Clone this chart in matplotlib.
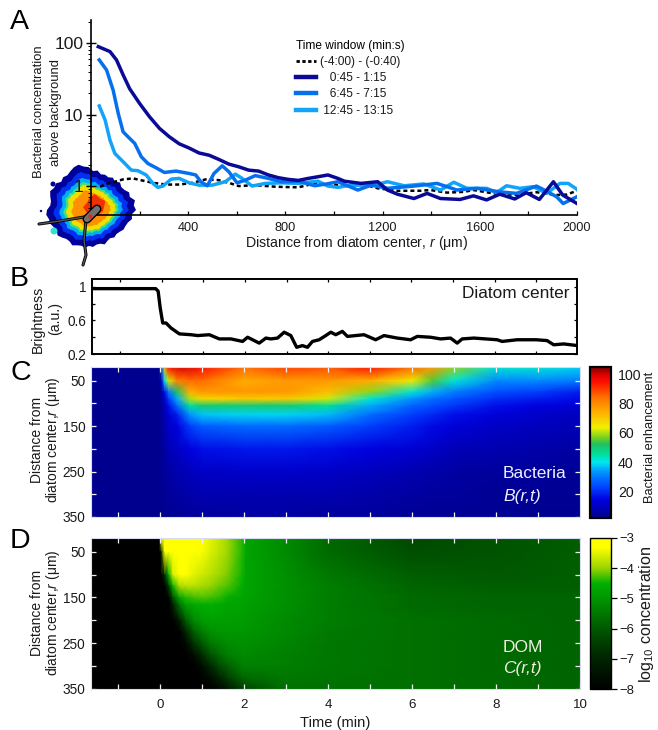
import matplotlib
matplotlib.use('Agg')
import matplotlib.pyplot as plt
from matplotlib.colors import LinearSegmentedColormap
from matplotlib.lines import Line2D
from matplotlib.ticker import FixedLocator, NullFormatter
import numpy as np

plt.rcParams['font.family'] = ['Liberation Sans', 'DejaVu Sans']
plt.rcParams['mathtext.fontset'] = 'custom'
plt.rcParams['mathtext.rm'] = 'Liberation Sans'
plt.rcParams['mathtext.it'] = 'Liberation Sans:italic'

# panel A, radial profiles
r_dark = [30, 78, 105, 132, 159, 200, 241, 282, 322, 363, 404, 445, 486, 526, 567, 608, 649, 690, 730, 771, 812,
          853, 894, 934, 975, 1016, 1043, 1111, 1180, 1220, 1261, 1329, 1383, 1438, 1519, 1574, 1628, 1682, 1744,
          1791, 1845, 1903, 1941, 2000]
c_dark = [89, 76, 58, 36, 23, 14.3, 9.3, 6.4, 4.9, 3.9, 3.4, 2.9, 2.7, 2.36, 2.03, 1.86, 1.67, 1.62, 1.43, 1.31, 1.24,
          1.2, 1.28, 1.35, 1.43, 1.28, 1.17, 1.09, 1.15, 0.88, 0.77, 0.67, 0.79, 0.67, 0.65, 0.73, 0.64, 0.77, 0.66,
          0.81, 0.65, 1.15, 0.75, 0.57]
r_mid = [34, 64, 91, 112, 132, 152, 180, 207, 234, 268, 302, 350, 404, 431, 452, 479, 506, 540, 567, 601, 635, 676,
         730, 785, 853, 921, 969, 1016, 1098, 1153, 1220, 1329, 1424, 1506, 1588, 1682, 1751, 1833, 1860, 1916, 1943,
         2000]
c_mid = [58, 42, 22, 10.4, 5.75, 4.9, 3.95, 2.57, 2.07, 1.8, 1.55, 1.62, 1.5, 1.43, 1.15, 1.01, 1.5, 1.92, 1.59, 1.11,
         1.21, 1.4, 1.28, 1.15, 1.17, 1.01, 1.07, 1.15, 0.88, 1.03, 0.93, 1.0, 1.09, 0.88, 0.93, 0.83, 0.79, 1.0, 0.9,
         0.71, 0.57, 0.71]
r_light = [34, 58, 78, 98, 132, 166, 193, 227, 255, 275, 296, 330, 363, 404, 445, 499, 553, 594, 622, 663, 717, 785,
           853, 934, 975, 1016, 1070, 1166, 1220, 1289, 1370, 1438, 1493, 1547, 1628, 1669, 1710, 1765, 1820, 1875,
           1930, 1964, 2000]
c_light = [13.2, 8.4, 4.4, 2.86, 2.19, 1.67, 1.64, 1.43, 1.09, 0.96, 1.0, 1.25, 1.28, 1.11, 1.03, 1.03, 1.15, 1.47,
           1.28, 1.0, 1.09, 1.11, 1.09, 1.17, 1.0, 0.96, 1.03, 1.03, 1.15, 1.01, 1.07, 0.88, 1.13, 0.93, 0.93, 0.81,
           1.01, 0.93, 0.98, 0.79, 1.09, 1.09, 0.9]
r_before = [37, 64, 98, 132, 173, 214, 255, 309, 363, 418, 472, 526, 567, 608, 676, 757, 853, 921, 989, 1057, 1125,
            1180, 1261, 1356, 1397, 1465, 1534, 1574, 1655, 1751, 1833, 1916, 1957, 2000]
c_before = [0.98, 1.07, 1.15, 1.24, 1.28, 1.19, 1.11, 1.05, 1.05, 1.11, 1.24, 1.21, 1.11, 1.0, 1.03, 0.98, 0.96, 1.09,
            1.05, 1.01, 1.05, 0.93, 0.86, 0.86, 0.88, 0.81, 0.83, 0.88, 0.79, 0.75, 0.82, 0.75, 0.76, 0.86]
legend_labels = ['(-4:00) - (-0:40)', '   0:45 - 1:15', '   6:45 - 7:15', ' 12:45 - 13:15']

# swarm outline seen in panel A, one radius per direction, 6.2 degrees apart (pixels)
blob_radius = [45, 43, 45, 41, 42, 39, 38, 40, 37, 39, 37, 38, 37, 40, 39, 43, 44, 47, 46, 44, 42, 43, 41, 44,
               43, 45, 43, 41, 41, 44, 45, 43, 43, 41, 40, 42, 40, 38, 38, 40, 38, 37, 38, 36, 37, 35, 35, 37,
               35, 34, 36, 35, 36, 38, 38, 39, 42, 41]
blob_levels = [1.0, 0.84, 0.71, 0.62, 0.56, 0.44]
core_radius = [9, 12, 10, 13, 11, 9, 12, 10, 9, 7, 8, 9]

# panel B
t_bright = [-1.65, -0.4, -0.15, -0.09, -0.04, 0.02, 0.1, 0.22, 0.42, 0.7, 0.86, 1.14, 1.38, 1.66, 1.94, 2.06, 2.34,
            2.5, 2.62, 2.78, 2.94, 3.1, 3.24, 3.38, 3.5, 3.62, 3.78, 3.94, 4.06, 4.18, 4.34, 4.46, 4.86, 5.14, 5.34,
            5.66, 5.98, 6.14, 6.46, 6.7, 6.94, 7.1, 7.22, 7.5, 8.06, 8.18, 8.54, 9.0, 9.26, 9.42, 9.66, 10]
brightness = [0.98, 0.98, 0.98, 0.95, 0.75, 0.57, 0.57, 0.51, 0.44, 0.43, 0.42, 0.43, 0.38, 0.38, 0.35, 0.40, 0.33,
              0.39, 0.38, 0.39, 0.46, 0.42, 0.28, 0.30, 0.28, 0.35, 0.37, 0.42, 0.46, 0.43, 0.47, 0.41, 0.43, 0.37,
              0.42, 0.39, 0.37, 0.41, 0.40, 0.38, 0.39, 0.33, 0.38, 0.39, 0.37, 0.35, 0.37, 0.37, 0.36, 0.31, 0.32,
              0.30]

# panel C, bacterial enhancement
bact_r = [20, 50, 75, 90, 105, 125, 150, 200, 250, 300, 350]
bact_t = [-1.65, -0.03, 0.03, 0.1, 0.2, 0.4, 0.7, 1, 2, 3, 4, 5, 6, 6.5, 7, 8, 9, 10]
bact_grid = [
    [2, 2, 2, 2, 2, 2, 2, 2, 2, 2, 2],
    [2, 2, 2, 2, 2, 2, 2, 2, 2, 2, 2],
    [30, 10, 6, 5, 4, 4, 4, 3, 3, 2, 2],
    [75, 40, 15, 10, 8, 7, 6, 5, 4, 3, 2],
    [95, 62, 30, 22, 16, 12, 10, 8, 5, 4, 3],
    [100, 82, 52, 35, 28, 18, 14, 10, 7, 5, 3],
    [100, 85, 74, 60, 45, 33, 22, 14, 9, 6, 4],
    [95, 85, 78, 68, 50, 37, 26, 16, 10, 7, 4],
    [85, 75, 78, 70, 50, 38, 28, 17, 11, 7, 5],
    [90, 78, 78, 70, 50, 38, 28, 17, 11, 7, 5],
    [88, 78, 72, 62, 46, 36, 26, 16, 10, 7, 4],
    [95, 75, 58, 42, 35, 28, 22, 14, 9, 6, 4],
    [85, 65, 42, 33, 27, 22, 18, 12, 7, 5, 3],
    [78, 55, 35, 28, 24, 19, 15, 10, 6, 4, 3],
    [58, 42, 30, 25, 21, 16, 13, 8, 5, 4, 3],
    [42, 32, 24, 20, 16, 13, 10, 7, 4, 3, 3],
    [42, 32, 22, 18, 14, 11, 9, 6, 4, 3, 2],
    [38, 30, 18, 15, 12, 9, 8, 5, 3, 3, 2],
]

# panel D, log10 DOM concentration
dom_r = [20, 50, 100, 125, 150, 165, 200, 225, 250, 275, 300, 325, 350]
dom_t = [-1.65, -0.02, 0.02, 0.1, 0.2, 0.3, 0.45, 0.6, 0.8, 1, 1.2, 1.4, 1.6, 1.95, 2.05, 3, 4, 6, 8, 10]
dom_grid = [
    [-8, -8, -8, -8, -8, -8, -8, -8, -8, -8, -8, -8, -8],
    [-8, -8, -8, -8, -8, -8, -8, -8, -8, -8, -8, -8, -8],
    [-3.2, -7, -8, -8, -8, -8, -8, -8, -8, -8, -8, -8, -8],
    [-3, -3.3, -6.8, -8, -8, -8, -8, -8, -8, -8, -8, -8, -8],
    [-3, -3, -4.6, -6.5, -7.9, -8, -8, -8, -8, -8, -8, -8, -8],
    [-3, -3, -3.6, -4.5, -6.2, -7, -8, -8, -8, -8, -8, -8, -8],
    [-3, -3, -3.2, -3.9, -4.8, -5.6, -7.2, -8, -8, -8, -8, -8, -8],
    [-3, -3, -3.3, -3.8, -4.4, -4.8, -6, -7, -7.8, -8, -8, -8, -8],
    [-3.1, -3.15, -3.5, -3.8, -4.3, -4.6, -5.2, -5.9, -6.7, -7.6, -8, -8, -8],
    [-3.3, -3.35, -3.65, -3.9, -4.25, -4.55, -4.9, -5.4, -6, -6.8, -7.6, -8, -8],
    [-3.5, -3.55, -3.8, -4, -4.3, -4.5, -4.8, -5.1, -5.5, -6.1, -6.9, -7.6, -8],
    [-3.7, -3.75, -3.95, -4.15, -4.35, -4.6, -4.8, -5, -5.3, -5.7, -6.3, -7, -7.8],
    [-3.95, -3.95, -4.1, -4.25, -4.5, -4.7, -4.85, -5, -5.15, -5.4, -5.9, -6.5, -7.4],
    [-4.4, -4.4, -4.45, -4.55, -4.7, -4.75, -4.85, -5, -5.1, -5.2, -5.4, -5.8, -6.5],
    [-4.7, -4.7, -4.7, -4.7, -4.75, -4.8, -4.9, -5, -5.1, -5.2, -5.35, -5.7, -6.3],
    [-5.2, -5.2, -5.1, -5.1, -5.1, -5.1, -5.2, -5.2, -5.3, -5.35, -5.4, -5.5, -5.6],
    [-5.7, -5.7, -5.5, -5.4, -5.4, -5.4, -5.4, -5.45, -5.5, -5.5, -5.5, -5.55, -5.6],
    [-6.3, -6.2, -5.9, -5.8, -5.7, -5.7, -5.6, -5.6, -5.6, -5.6, -5.6, -5.6, -5.6],
    [-6.1, -6.1, -6, -5.9, -5.8, -5.8, -5.7, -5.7, -5.7, -5.7, -5.7, -5.7, -5.7],
    [-5.9, -5.9, -5.9, -5.9, -5.8, -5.8, -5.8, -5.8, -5.8, -5.8, -5.8, -5.8, -5.8],
]

W, H = 658, 730
DARK = '#0a0a96'
MID = '#0570ee'
LIGHT = '#12a4f8'
TXT = '#1a1a1a'

jet_like = LinearSegmentedColormap.from_list('jet_like', [
    (0.0, '#00008c'), (0.12, '#0000e0'), (0.2, '#0040ff'), (0.3, '#0090ff'), (0.37, '#00e8f0'), (0.42, '#00e0a0'),
    (0.49, '#20c060'), (0.53, '#70d020'), (0.6, '#f0f000'), (0.7, '#ffb000'), (0.8, '#ff7000'), (0.9, '#ff1000'),
    (0.95, '#e00000'), (1.0, '#800000')])
dom_cmap = LinearSegmentedColormap.from_list('dom_cmap', [
    (0.0, '#000000'), (0.2, '#002300'), (0.4, '#005800'), (0.6, '#009600'), (0.7, '#00af00'), (0.8, '#98d400'),
    (0.94, '#ffff00'), (1.0, '#ffff00')])


def axes_px(fig, left, top, right, bottom, **kwargs):
    return fig.add_axes([left / W, 1 - bottom / H, (right - left) / W, (bottom - top) / H], **kwargs)


def text_px(fig, x, y, s, **kwargs):
    kwargs.setdefault('color', TXT)
    return fig.text(x / W, 1 - y / H, s, **kwargs)


def draw_blob(fig):
    # the swarm picture sits under panel A, drawn in figure pixels
    ax = axes_px(fig, 0, 0, W, H, zorder=0)
    ax.set_xlim(0, W)
    ax.set_ylim(H, 0)
    ax.axis('off')
    rad = np.array(blob_radius + blob_radius[:1], dtype=float)
    ang = np.linspace(0, 2 * np.pi, len(rad))
    cols = ['#00009a', '#0030f0', '#00b0f0', '#40e080', '#f0e000', '#ff9000']
    for lev, col in zip(blob_levels, cols):
        ax.fill(91 + lev * rad * np.cos(ang), 210 - lev * rad * np.sin(ang), color=col, lw=0)
    core = np.array(core_radius + core_radius[:1], dtype=float)
    ang = np.linspace(0, 2 * np.pi, len(core))
    ax.fill(95 + core * np.cos(ang), 207 - core * np.sin(ang), color='#f03000', lw=0)
    ax.add_patch(plt.Circle((54, 231), 3.5, color='#30e0d0', lw=0))
    ax.add_patch(plt.Circle((53, 184), 2.5, color='#00009a', lw=0))
    ax.add_patch(plt.Circle((41, 211), 1.2, color='#00009a', lw=0))
    return ax


def draw_diatom(fig):
    ax = axes_px(fig, 0, 0, W, H, zorder=5)
    ax.set_xlim(0, W)
    ax.set_ylim(H, 0)
    ax.axis('off')
    ax.patch.set_alpha(0)
    for xs, ys, lw in [([39, 60, 84, 90], [224, 221, 217, 215], 2.2), ([86, 84, 86, 83], [220, 240, 255, 265], 2.2)]:
        ax.plot(xs, ys, color='black', lw=lw, solid_capstyle='round')
        ax.plot(xs, ys, color='#555555', lw=lw - 1.2, solid_capstyle='round')
    ax.plot([87, 97], [219, 209], color='black', lw=6.5, solid_capstyle='round')
    ax.plot([87, 97], [219, 209], color='#707070', lw=4.5, solid_capstyle='round')
    ax.plot([90], [216], 'o', color='#f02020', ms=2)


def line(ax, x, y, col):
    ax.plot(x, y, color=col, lw=2.5, solid_joinstyle='round')


fig = plt.figure(figsize=(W / 100, H / 100), dpi=100)

draw_blob(fig)

# A
ax = axes_px(fig, 91, 20, 577, 215, zorder=2)
ax.patch.set_alpha(0)
ax.plot(r_before, c_before, color='black', lw=1.8, ls=(0, (1.6, 1.2)))
line(ax, r_light, c_light, LIGHT)
line(ax, r_mid, c_mid, MID)
line(ax, r_dark, c_dark, DARK)
ax.set_xlim(0, 2000)
ax.set_yscale('log')
ax.set_ylim(0.394, 210)
ax.spines['top'].set_visible(False)
ax.spines['right'].set_visible(False)
ax.spines['left'].set_linewidth(1.2)
ax.spines['bottom'].set_linewidth(1.2)
ax.set_xticks([400, 800, 1200, 1600, 2000])
ax.set_xticks([200, 600, 1000, 1400, 1800], minor=True)
ax.tick_params(axis='x', which='both', direction='in', length=3, width=0.9, labelsize=9.2, pad=5, labelcolor=TXT)
ax.set_yticks([1, 10, 100])
ax.set_yticklabels(['1', '10', '100'])
ax.yaxis.set_minor_locator(FixedLocator([0.5, 0.6, 0.7, 0.8, 0.9, 2, 3, 4, 5, 6, 7, 8, 9, 20, 30, 40, 50, 60, 70, 80,
                                         90, 200]))
ax.yaxis.set_minor_formatter(NullFormatter())
ax.tick_params(axis='y', which='major', direction='inout', length=7, width=1, labelsize=12.6, pad=2, labelcolor=TXT)
ax.tick_params(axis='y', which='minor', direction='out', length=2.5, width=0.7)
handles = [Line2D([], [], color='black', lw=2, ls=(0, (1.2, 0.9))), Line2D([], [], color=DARK, lw=3.2),
           Line2D([], [], color=MID, lw=3.2), Line2D([], [], color=LIGHT, lw=3.2)]
leg = ax.legend(handles, legend_labels, loc='upper left', bbox_to_anchor=(205 / 486, 0.9), frameon=False,
                fontsize=8.6, title='Time window (min:s)', title_fontsize=8.6, handlelength=1.7, handletextpad=0.3,
                labelspacing=0.36, borderpad=0, borderaxespad=0, alignment='left', labelcolor=TXT)
text_px(fig, 245, 247, 'Distance from diatom center, $\\mathit{r}$ ($\\mathrm{\\mu}$m)', fontsize=10.2, va='baseline')
text_px(fig, 39, 112, 'Bacterial concentration', fontsize=9.4, rotation=90, ha='center', va='center')
text_px(fig, 56, 112, 'above background', fontsize=9.4, rotation=90, ha='center', va='center')

draw_diatom(fig)

# B
ax = axes_px(fig, 92, 279, 577, 354, zorder=2)
ax.plot(t_bright, brightness, color='black', lw=2.4)
ax.set_xlim(-1.68, 9.98)
ax.set_ylim(0.2, 1.095)
ax.set_xticks(range(-1, 10))
ax.set_xticklabels([])
ax.set_yticks([0.2, 0.4, 0.6, 0.8, 1.0])
ax.set_yticklabels(['0.2', '', '0.6', '', '1'])
ax.tick_params(axis='both', direction='in', top=True, right=True, length=2.5, width=0.9, labelsize=9.8, pad=4,
               labelcolor=TXT)
for s in ax.spines.values():
    s.set_linewidth(1.4)
text_px(fig, 570, 294, 'Diatom center', fontsize=12.4, ha='right', va='center')
text_px(fig, 38, 319, 'Brightness', fontsize=10.2, rotation=90, ha='center', va='center')
text_px(fig, 55, 319, '(a.u.)', fontsize=10.2, rotation=90, ha='center', va='center')


def heat_axes(top, bottom):
    ax = axes_px(fig, 91, top, 580, bottom, zorder=2)
    ax.set_xlim(-1.65, 10)
    ax.set_ylim(350, 20)
    ax.set_xticks(range(-1, 10))
    ax.set_yticks([50, 150, 250, 350])
    ax.set_yticks([100, 200, 300], minor=True)
    ax.tick_params(axis='both', which='both', direction='in', top=True, right=True, length=3.5, width=0.9,
                   color='#f0f0f0', labelsize=9.8, pad=4, labelcolor=TXT)
    ax.tick_params(axis='x', labelbottom=False)
    for tick in ax.yaxis.get_major_ticks() + ax.yaxis.get_minor_ticks():
        tick.tick1line.set_color('black')
    for s in ax.spines.values():
        s.set_color('#d8dcf0')
        s.set_linewidth(0.8)
    return ax


# C
ax = heat_axes(367, 517)
mesh = ax.pcolormesh(bact_t, bact_r, np.array(bact_grid).T, shading='gouraud', cmap=jet_like, vmin=1.4, vmax=105.5,
                     rasterized=True)
text_px(fig, 503, 474, 'Bacteria', fontsize=12.5, color='#eef0ff', va='center')
text_px(fig, 503, 496, 'B(r,t)', fontsize=12.5, color='#eef0ff', style='italic', va='center')
text_px(fig, 37, 440, 'Distance from', fontsize=10, rotation=90, ha='center', va='center')
text_px(fig, 53, 440, 'diatom center,$\\mathit{r}$ ($\\mathrm{\\mu}$m)', fontsize=10, rotation=90, ha='center',
        va='center')

cax = axes_px(fig, 590, 367, 611, 518, zorder=2)
cb = fig.colorbar(mesh, cax=cax)
cb.set_ticks([20, 40, 60, 80, 100])
cb.ax.tick_params(length=0, labelsize=10.2, pad=5, labelcolor=TXT)
cb.outline.set_linewidth(1.6)
text_px(fig, 650, 437, 'Bacterial enhancement', fontsize=9.3, rotation=90, ha='center', va='center')

# D
ax = heat_axes(538, 689)
mesh = ax.pcolormesh(dom_t, dom_r, np.array(dom_grid).T, shading='gouraud', cmap=dom_cmap, vmin=-8, vmax=-3,
                     rasterized=True)
ax.set_xticks([0, 2, 4, 6, 8, 10])
ax.set_xticks(range(-1, 10, 2), minor=True)
ax.tick_params(axis='x', labelbottom=True, pad=7, labelsize=9.6)
ax.set_xlabel('Time (min)', fontsize=10.6, color=TXT, labelpad=4)
text_px(fig, 503, 647, 'DOM', fontsize=12.5, color='#eef0e0', va='center')
text_px(fig, 503, 668, 'C(r,t)', fontsize=12.5, color='#eef0e0', style='italic', va='center')
text_px(fig, 37, 613, 'Distance from', fontsize=10, rotation=90, ha='center', va='center')
text_px(fig, 53, 613, 'diatom center,$\\mathit{r}$ ($\\mathrm{\\mu}$m)', fontsize=10, rotation=90, ha='center',
        va='center')

cax = axes_px(fig, 590, 538, 611, 689, zorder=2)
cb = fig.colorbar(mesh, cax=cax)
cb.set_ticks([-8, -7, -6, -5, -4, -3])
cb.set_ticklabels(['\u22128', '\u22127', '\u22126', '\u22125', '\u22124', '\u22123'])
cb.ax.tick_params(length=4, width=0.9, labelsize=9.4, pad=2, labelcolor=TXT)
cb.outline.set_linewidth(1.0)
text_px(fig, 647, 615, 'log$_{10}$ concentration', fontsize=11.6, rotation=90, ha='center', va='center')

for lab, y in zip('ABCD', [22, 279, 373, 541]):
    text_px(fig, 10, y, lab, fontsize=20.5, color='black', va='center')

fig.savefig('out.png', dpi=100)
